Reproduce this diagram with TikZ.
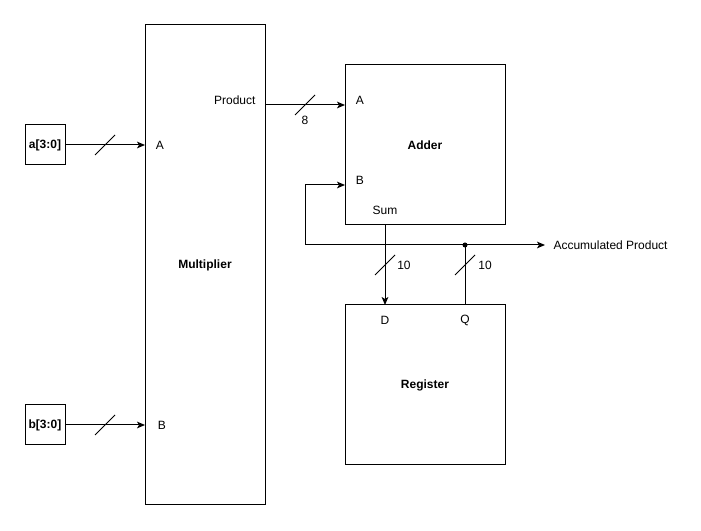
\documentclass[tikz,border=0pt]{standalone}
\usepackage{fontspec}
\setmainfont{Liberation Sans}
\usetikzlibrary{arrows.meta}
\begin{document}
\begin{tikzpicture}[x=0.75pt,y=-0.75pt,line width=0.75pt,font=\fontsize{9pt}{11pt}\selectfont,
  blk/.style={draw,rectangle,inner sep=0pt,outer sep=0pt,font=\fontsize{9pt}{11pt}\selectfont\bfseries},
  lbl/.style={inner sep=0pt},
  wire/.style={-{Stealth[length=6pt,width=5pt,inset=1.5pt]}},
  pics/busmark/.style={code={\draw[line width=0.75pt] (-10,10) -- (10,-10);}}]
\useasboundingbox (0,0) rectangle (701,531);
% blocks
\node[blk,minimum width=30pt,minimum height=30pt] (ain) at (45,145) {a[3:0]};
\node[blk,minimum width=30pt,minimum height=30pt] (bin) at (45,425) {b[3:0]};
\node[blk,minimum width=90pt,minimum height=360pt] (mul) at (205,265) {Multiplier};
\node[blk,minimum width=120pt,minimum height=120pt] (add) at (425,145) {Adder};
\node[blk,minimum width=120pt,minimum height=120pt] (reg) at (425,385) {Register};
% port labels
\node[lbl] (mulA) at (160,145) {A};
\node[lbl] (mulB) at (162,425) {B};
\node[lbl,anchor=east] (mulP) at (256,100) {Product};
\node[lbl] (addA) at (360,100) {A};
\node[lbl] (addB) at (360,180) {B};
\node[lbl] (addS) at (385,210) {Sum};
\node[lbl] (regD) at (385,320) {D};
\node[lbl] (regQ) at (465,320) {Q};
\node[lbl,anchor=west] (out) at (553,245) {Accumulated Product};
% port coordinates
\coordinate (mulAin) at (145,145);
\coordinate (mulBin) at (145,425);
\coordinate (mulPout) at (265,105);
\coordinate (addAin) at (345,105);
\coordinate (addBin) at (345,185);
\coordinate (addSout) at (385,225);
\coordinate (regDin) at (385,305);
\coordinate (regQout) at (465,305);
\coordinate (jn) at (465,245);
\coordinate (fbl) at (305,245);
\coordinate (outend) at (545,245);
% wires
\draw[wire] (ain.east) -- (mulAin);
\draw[wire] (bin.east) -- (mulBin);
\draw[wire] (mulPout) -- (addAin);
\draw[wire] (addSout) -- (regDin);
\draw (regQout) -- (jn);
\draw[wire] (fbl) -- (outend);
\draw[wire] (fbl) |- (addBin);
\fill (jn) circle (2.5);
% bus marks
\pic at (105,145) {busmark};
\pic at (105,425) {busmark};
\pic at (305,105) {busmark};
\pic at (385,265) {busmark};
\pic at (465,265) {busmark};
\node[lbl] (w8) at (305,120) {8};
\node[lbl] (w10a) at (404,265) {10};
\node[lbl] (w10b) at (485,265) {10};
\end{tikzpicture}
\end{document}
